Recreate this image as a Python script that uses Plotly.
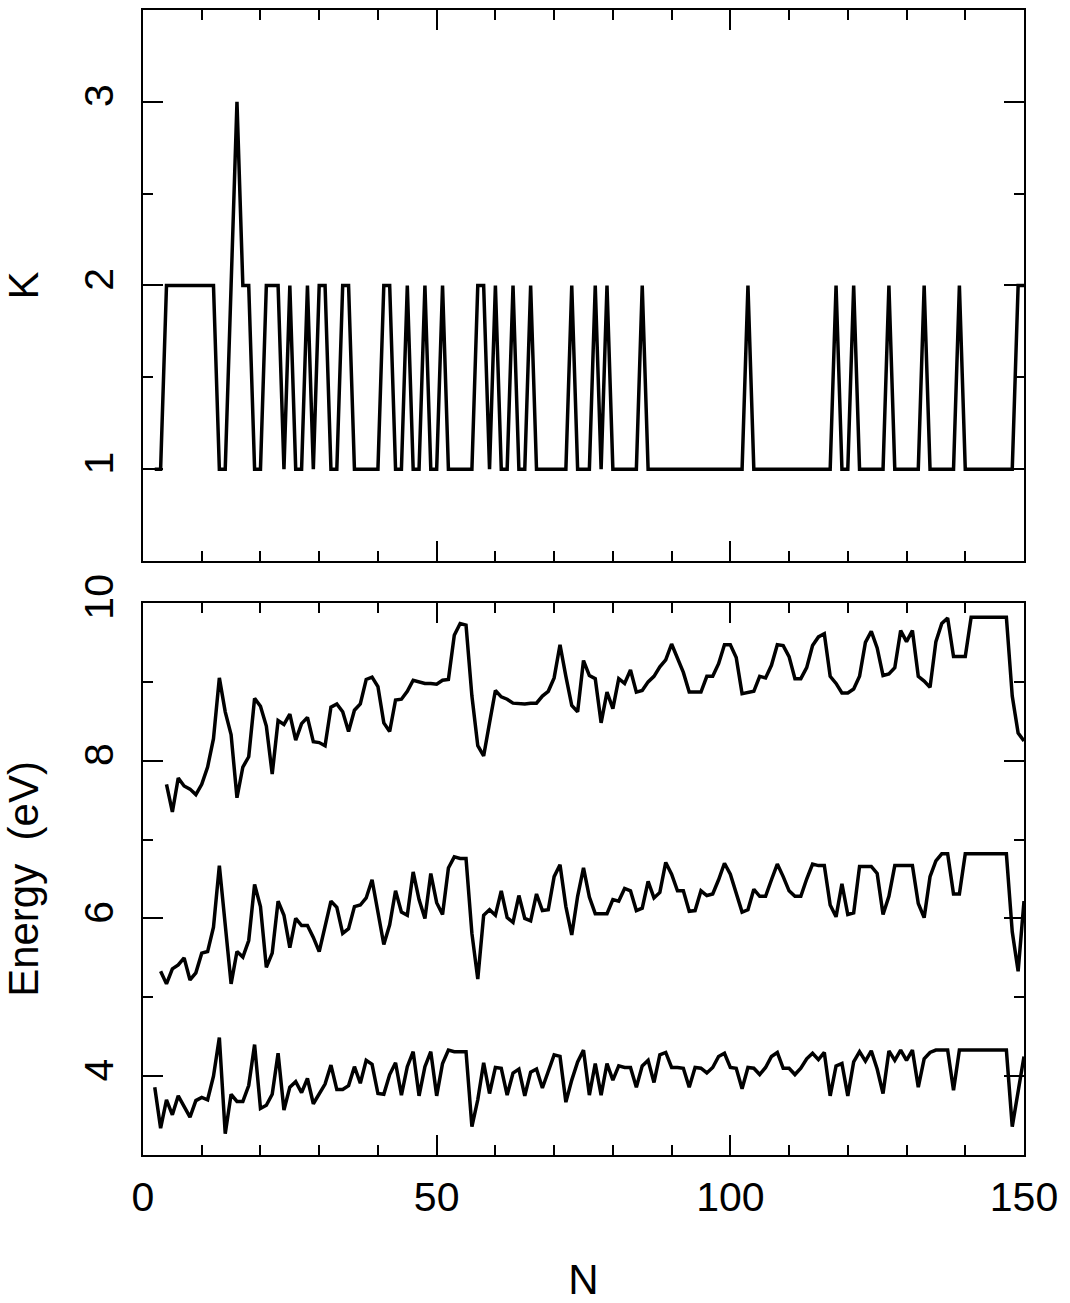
import plotly.graph_objects as go

# ---------------- data ----------------
N_K = list(range(2, 151))
K = [1, 1, 2, 2, 2, 2, 2, 2, 2, 2, 2,
     1, 1, 2, 3, 2, 2, 1, 1, 2, 2, 2, 1, 2, 1, 1, 2, 1, 2, 2, 1, 1, 2, 2,
     1, 1, 1, 1, 1, 2, 2, 1, 1, 2, 1, 1, 2, 1, 1, 2, 1, 1, 1, 1, 1,
     2, 2, 1, 2, 1, 1, 2, 1, 1, 2, 1, 1, 1, 1, 1, 1, 2, 1, 1, 1, 2, 1, 2,
     1, 1, 1, 1, 1, 2,
     1, 1, 1, 1, 1, 1, 1, 1, 1, 1, 1, 1, 1, 1, 1, 1, 1, 2,
     1, 1, 1, 1, 1, 1, 1, 1, 1, 1, 1, 1, 1, 1, 2, 1, 1, 2,
     1, 1, 1, 1, 1, 2, 1, 1, 1, 1, 1, 2, 1, 1, 1, 1, 1, 2,
     1, 1, 1, 1, 1, 1, 1, 1, 1, 2, 2]

N_top = list(range(4, 151))
E_top = [7.70, 7.35, 7.78, 7.68, 7.64, 7.57, 7.70, 7.92, 8.28, 9.05,
         8.62, 8.33, 7.53, 7.92, 8.05, 8.79, 8.69, 8.44, 7.83, 8.51,
         8.46, 8.59, 8.26, 8.47, 8.55, 8.24, 8.23, 8.19, 8.68, 8.72,
         8.62, 8.37, 8.64, 8.72, 9.03, 9.06, 8.94, 8.48, 8.37, 8.77,
         8.78, 8.88, 9.02, 9.00, 8.98, 8.98, 8.97, 9.02, 9.03, 9.59,
         9.74, 9.72, 8.82, 8.19, 8.06, 8.48, 8.89, 8.81, 8.78, 8.73,
         8.72, 8.72, 8.73, 8.73, 8.82, 8.88, 9.05, 9.47, 9.07, 8.70,
         8.62, 9.27, 9.08, 9.04, 8.48, 8.87, 8.66, 9.04, 8.98, 9.15,
         8.87, 8.89, 9.00, 9.07, 9.19, 9.28, 9.48, 9.31, 9.12, 8.87,
         8.87, 8.87, 9.07, 9.07, 9.23, 9.47, 9.47, 9.31, 8.85, 8.87,
         8.88, 9.07, 9.05, 9.21, 9.47, 9.46, 9.32, 9.04, 9.04, 9.18,
         9.46, 9.57, 9.61, 9.07, 8.98, 8.86, 8.86, 8.91, 9.07, 9.50,
         9.64, 9.43, 9.08, 9.10, 9.18, 9.65, 9.51, 9.65, 9.07, 9.01,
         8.93, 9.51, 9.74, 9.81, 9.32, 9.32, 9.32, 9.82, 9.82, 9.82,
         9.82, 9.82, 9.82, 9.82, 8.82, 8.35, 8.25]

N_mid = list(range(3, 151))
E_mid = [5.33, 5.17, 5.36, 5.41, 5.50, 5.22, 5.31, 5.56, 5.58, 5.89,
         6.67, 5.92, 5.17, 5.58, 5.51, 5.72, 6.43, 6.15, 5.38, 5.56,
         6.22, 6.04, 5.63, 6.00, 5.91, 5.91, 5.76, 5.58, 5.88, 6.22,
         6.14, 5.81, 5.87, 6.15, 6.17, 6.26, 6.49, 6.08, 5.67, 5.92,
         6.35, 6.08, 6.04, 6.59, 6.24, 6.00, 6.57, 6.20, 6.05, 6.64,
         6.78, 6.76, 6.76, 5.81, 5.23, 6.04, 6.11, 6.04, 6.35, 6.01,
         5.95, 6.29, 6.00, 5.97, 6.31, 6.10, 6.11, 6.53, 6.68, 6.15,
         5.79, 6.28, 6.64, 6.27, 6.06, 6.06, 6.06, 6.24, 6.22, 6.38,
         6.35, 6.10, 6.13, 6.47, 6.26, 6.33, 6.71, 6.56, 6.35, 6.35,
         6.09, 6.10, 6.35, 6.29, 6.31, 6.49, 6.70, 6.56, 6.33, 6.08,
         6.11, 6.37, 6.28, 6.28, 6.49, 6.69, 6.53, 6.35, 6.28, 6.28,
         6.50, 6.69, 6.67, 6.67, 6.17, 6.02, 6.44, 6.05, 6.07, 6.66,
         6.66, 6.66, 6.57, 6.05, 6.28, 6.67, 6.67, 6.67, 6.67, 6.19,
         6.01, 6.53, 6.73, 6.82, 6.82, 6.31, 6.31, 6.82, 6.82, 6.82,
         6.82, 6.82, 6.82, 6.82, 6.82, 5.83, 5.33, 6.22]

N_low = list(range(2, 151))
E_low = [3.86, 3.34, 3.70, 3.51, 3.75, 3.61, 3.48, 3.69, 3.73, 3.70,
         4.00, 4.49, 3.27, 3.77, 3.68, 3.68, 3.88, 4.40, 3.59, 3.63,
         3.77, 4.29, 3.57, 3.86, 3.93, 3.79, 3.97, 3.65, 3.77, 3.90,
         4.14, 3.83, 3.83, 3.88, 4.12, 3.91, 4.20, 4.15, 3.78, 3.77,
         4.02, 4.17, 3.76, 4.12, 4.31, 3.75, 4.12, 4.31, 3.75, 4.16,
         4.33, 4.31, 4.31, 4.31, 3.36, 3.70, 4.17, 3.78, 4.11, 4.10,
         3.76, 4.04, 4.09, 3.75, 4.05, 4.09, 3.85, 4.06, 4.27, 4.25,
         3.67, 3.95, 4.18, 4.33, 3.76, 4.16, 3.76, 4.16, 3.95, 4.13,
         4.11, 4.11, 3.86, 4.13, 4.20, 3.92, 4.27, 4.30, 4.11, 4.11,
         4.10, 3.86, 4.11, 4.10, 4.04, 4.11, 4.25, 4.29, 4.11, 4.10,
         3.84, 4.11, 4.10, 4.02, 4.11, 4.25, 4.30, 4.10, 4.10, 4.02,
         4.10, 4.22, 4.29, 4.21, 4.30, 3.75, 4.13, 4.16, 3.75, 4.18,
         4.31, 4.19, 4.32, 4.09, 3.78, 4.32, 4.20, 4.33, 4.20, 4.33,
         3.86, 4.22, 4.30, 4.33, 4.33, 4.33, 3.82, 4.33, 4.33, 4.33,
         4.33, 4.33, 4.33, 4.33, 4.33, 4.33, 3.36, 3.80, 4.25]

x_ticks = [0, 50, 100, 150]
k_ticks = [1, 2, 3]
e_ticks = [4, 6, 8, 10]

# ---------------- figure ----------------
FONT = "Liberation Sans"
line = dict(color="black", width=3.5)

fig = go.Figure()
fig.add_trace(go.Scatter(x=N_K, y=K, mode="lines", line=line, xaxis="x", yaxis="y"))
for xs, ys in [(N_top, E_top), (N_mid, E_mid), (N_low, E_low)]:
    fig.add_trace(go.Scatter(x=xs, y=ys, mode="lines", line=line, xaxis="x2", yaxis="y2"))

common = dict(showline=True, linecolor="black", linewidth=2, mirror="allticks",
              ticks="inside", ticklen=20, tickwidth=2, tickcolor="black",
              showgrid=False, zeroline=False, automargin=False,
              tickfont=dict(family=FONT, size=41, color="black"))
minor_style = dict(ticks="inside", ticklen=10, tickwidth=2, tickcolor="black")
title_font = dict(family=FONT, size=42, color="black")

fig.update_layout(
    width=1070, height=1303,
    margin=dict(l=143, r=46, t=10, b=148, autoexpand=False),
    plot_bgcolor="white", paper_bgcolor="white",
    showlegend=False,
    xaxis=dict(common, domain=[0, 1], range=[0, 150], anchor="y",
               tickvals=x_ticks, showticklabels=False,
               minor=dict(minor_style, dtick=10, tick0=0)),
    yaxis=dict(common, domain=[0.5188, 1], range=[0.5, 3.5], anchor="x",
               tickvals=k_ticks, tickangle=-90, ticklabelstandoff=12,
               minor=dict(minor_style, tickvals=[1.5, 2.5]),
               title=dict(text="K", font=title_font, standoff=33)),
    xaxis2=dict(common, domain=[0, 1], range=[0, 150], anchor="y2",
                tickvals=x_ticks, ticklabelstandoff=5,
                minor=dict(minor_style, dtick=10, tick0=0),
                title=dict(text="N", font=title_font, standoff=64)),
    yaxis2=dict(common, domain=[0, 0.4821], range=[3, 10], anchor="x2",
                tickvals=e_ticks, tickangle=-90, ticklabelstandoff=12,
                minor=dict(minor_style, tickvals=[5, 7, 9]),
                title=dict(text="Energy  (eV)", font=title_font, standoff=34)),
)

fig.write_html("out.html")
